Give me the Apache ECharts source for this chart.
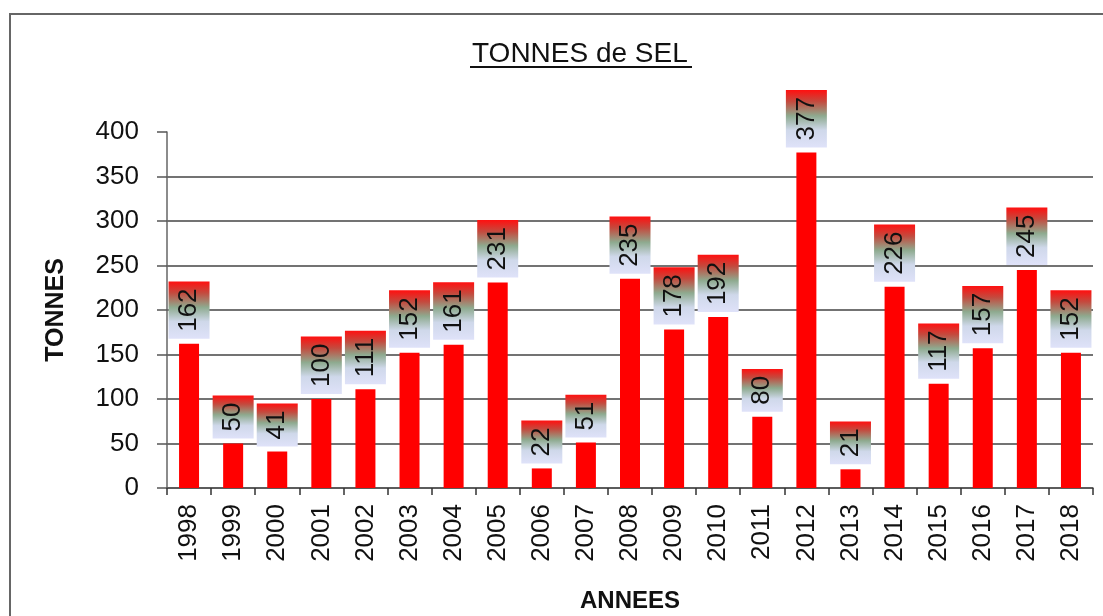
<!DOCTYPE html>
<html>
<head>
<meta charset="utf-8">
<script src="https://cdn.jsdelivr.net/npm/echarts@6/dist/echarts.min.js"></script>
<style>
  html, body { margin: 0; padding: 0; background: #fff; }
  #chart { width: 1103px; height: 616px; }
</style>
</head>
<body>
<div id="chart"></div>
<script>
var years = ["1998", "1999", "2000", "2001", "2002", "2003", "2004", "2005", "2006", "2007",
  "2008", "2009", "2010", "2011", "2012", "2013", "2014", "2015", "2016", "2017", "2018"];
var tonnes = [162, 50, 41, 100, 111, 152, 161, 231, 22, 51,
  235, 178, 192, 80, 377, 21, 226, 117, 157, 245, 152];
var yTicks = { min: 0, max: 400, step: 50 };

var font = "'Liberation Sans', Arial, sans-serif";

// label box: lavender at the bar end, red at the far end (text is rotated)
var labelBg = new echarts.graphic.LinearGradient(0, 0, 1, 0, [
  { offset: 0, color: "#dfe2f9" },
  { offset: 0.3, color: "#cfd8ea" },
  { offset: 0.55, color: "#8eaa8f" },
  { offset: 0.8, color: "#c44a3e" },
  { offset: 1, color: "#ff1010" }
]);

var chart = echarts.init(document.getElementById("chart"));
var option = {
  backgroundColor: "#ffffff",
  animation: false,
  title: {
    text: "TONNES de SEL",
    left: 472,
    top: 40,
    padding: 0,
    textStyle: {
      fontFamily: font,
      fontSize: 28,
      fontWeight: "normal",
      color: "#111"
    }
  },
  graphic: [
    {
      type: "rect",
      shape: { x: 10, y: 14, width: 1200, height: 700 },
      style: { fill: null, stroke: "#666", lineWidth: 2 },
      silent: true
    },
    {
      type: "line",
      shape: { x1: 470, y1: 67, x2: 692, y2: 67 },
      style: { stroke: "#111", lineWidth: 2 },
      silent: true
    }
  ],
  grid: {
    left: 167,
    right: 10,
    top: 132,
    bottom: 128,
    outerBoundsMode: "none"
  },
  xAxis: {
    type: "category",
    data: years,
    name: "ANNEES",
    nameLocation: "middle",
    nameGap: 101,
    nameTextStyle: {
      fontFamily: font,
      fontSize: 24,
      fontWeight: "bold",
      color: "#111"
    },
    axisLine: { lineStyle: { color: "#555", width: 1.5 } },
    axisTick: { show: true, length: 7, lineStyle: { color: "#333", width: 1.5 } },
    axisLabel: {
      rotate: 90,
      margin: 16,
      fontFamily: font,
      fontSize: 26,
      color: "#111"
    }
  },
  yAxis: {
    type: "value",
    min: yTicks.min,
    max: yTicks.max,
    interval: yTicks.step,
    name: "TONNES",
    nameLocation: "middle",
    nameGap: 98,
    nameTextStyle: {
      fontFamily: font,
      fontSize: 25,
      fontWeight: "bold",
      color: "#111"
    },
    axisLine: { show: true, lineStyle: { color: "#666", width: 1.5 } },
    axisTick: { show: true, length: 10, lineStyle: { color: "#555", width: 1.5 } },
    axisLabel: {
      margin: 28,
      fontFamily: font,
      fontSize: 26,
      color: "#111"
    },
    splitLine: {
      show: true,
      showMaxLine: false,
      lineStyle: { color: "#444", width: 1.5 }
    }
  },
  series: [
    {
      type: "bar",
      data: tonnes,
      barWidth: 20,
      itemStyle: { color: "#ff0000" },
      label: {
        show: true,
        position: "top",
        distance: 5,
        rotate: 90,
        align: "left",
        verticalAlign: "middle",
        fontFamily: font,
        fontSize: 26,
        lineHeight: 26,
        color: "#111",
        backgroundColor: labelBg,
        padding: [8, 7, 7, 7]
      }
    }
  ]
};
chart.setOption(option);
</script>
</body>
</html>
